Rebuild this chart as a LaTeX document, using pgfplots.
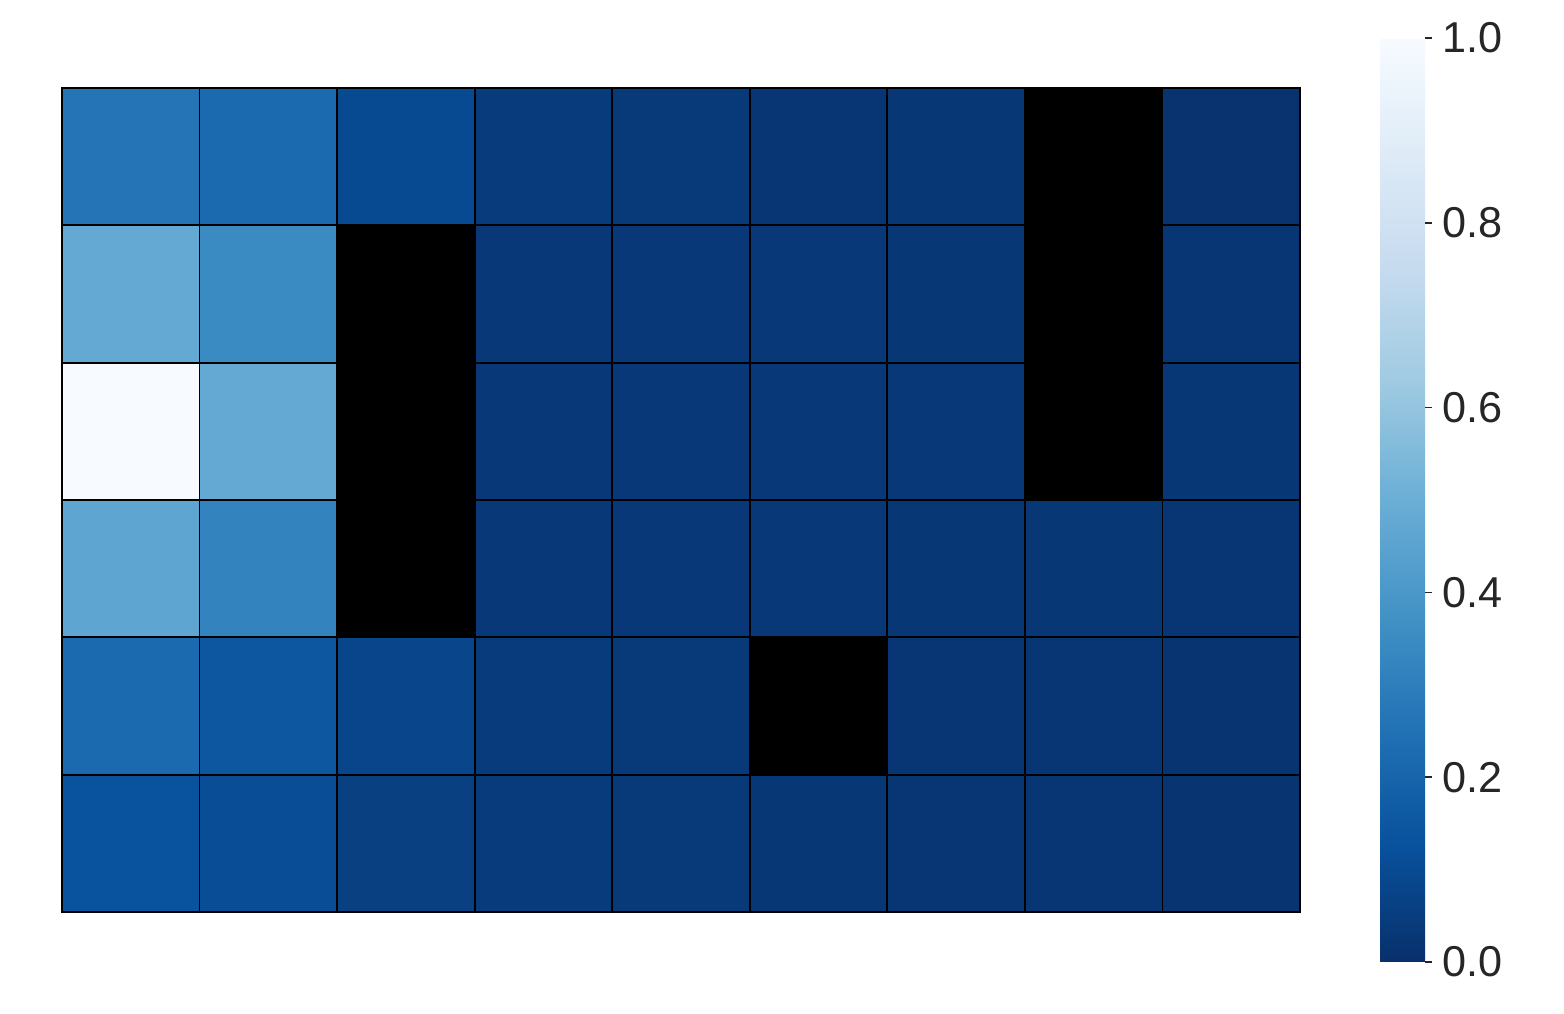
\documentclass[border=0pt]{standalone}
\usepackage{pgfplots}
\pgfplotsset{compat=1.18}
\usepackage{fontspec}
\setmainfont{Liberation Sans}
\definecolor{txt}{HTML}{262626}
\pgfplotstableread{
x y v
0 0 0.26
1 0 0.22
2 0 0.10
3 0 0.04
4 0 0.035
5 0 0.02
6 0 0.025
7 0 0.0
8 0 0.01
0 1 0.48
1 1 0.35
2 1 0.0
3 1 0.03
4 1 0.03
5 1 0.03
6 1 0.025
7 1 0.0
8 1 0.02
0 2 1.00
1 2 0.48
2 2 0.0
3 2 0.03
4 2 0.03
5 2 0.03
6 2 0.03
7 2 0.0
8 2 0.025
0 3 0.46
1 3 0.32
2 3 0.0
3 3 0.03
4 3 0.03
5 3 0.03
6 3 0.025
7 3 0.025
8 3 0.02
0 4 0.22
1 4 0.15
2 4 0.08
3 4 0.04
4 4 0.035
5 4 0.0
6 4 0.02
7 4 0.02
8 4 0.015
0 5 0.13
1 5 0.11
2 5 0.06
3 5 0.04
4 5 0.035
5 5 0.025
6 5 0.02
7 5 0.02
8 5 0.015
}\heat
\begin{document}
\begin{tikzpicture}
\begin{axis}[
    name=hm,
    scale only axis,
    width=309.5pt, height=206pt,
    xmin=-0.5, xmax=8.5, ymin=-0.5, ymax=5.5,
    y dir=reverse,
    axis on top,
    xtick={-0.5,0.5,...,8.5}, ytick={-0.5,0.5,...,5.5},
    xticklabels={}, yticklabels={},
    major tick length=0pt,
    grid=major,
    grid style={black, line width=0.45pt},
    axis line style={black, line width=0.45pt},
    colormap={bluesr}{rgb255(0)=(8,48,107) rgb255(1)=(8,81,156) rgb255(2)=(33,113,181) rgb255(3)=(66,146,198) rgb255(4)=(107,174,214) rgb255(5)=(158,202,225) rgb255(6)=(198,219,239) rgb255(7)=(222,235,247) rgb255(8)=(247,251,255)},
    point meta min=0, point meta max=1,
    colorbar right,
    colorbar style={
        at={(parent axis.east)}, anchor=west, xshift=11.5pt,
        width=11.25pt, height=231pt,
        axis line style={draw=none},
        ytick={0,0.2,...,1.0},
        ytick pos=right,
        yticklabel style={/pgf/number format/.cd, fixed, fixed zerofill, precision=1, /tikz/.cd, font=\fontsize{10.8}{13}\selectfont, text=txt, xshift=-1pt},
        /pgf/number format/assume math mode=true,
        major tick length=1.7pt,
        tick style={txt, line width=0.4pt},
        tick align=outside,
        yticklabel pos=right,
    },
]
\addplot[matrix plot*, mesh/cols=9, point meta=explicit] table[x=x, y=y, meta=v] {\heat};
\addplot[fill=black, draw=black] coordinates {(6.5,-0.5) (7.5,-0.5) (7.5,2.5) (6.5,2.5)} -- cycle;
\addplot[fill=black, draw=black] coordinates {(1.5,0.5) (2.5,0.5) (2.5,3.5) (1.5,3.5)} -- cycle;
\addplot[fill=black, draw=black] coordinates {(4.5,3.5) (5.5,3.5) (5.5,4.5) (4.5,4.5)} -- cycle;
\end{axis}
\path ([xshift=-15.5pt, yshift=-25.5pt]hm.south west) rectangle ([xshift=66pt, yshift=22pt]hm.north east);
\end{tikzpicture}
\end{document}
